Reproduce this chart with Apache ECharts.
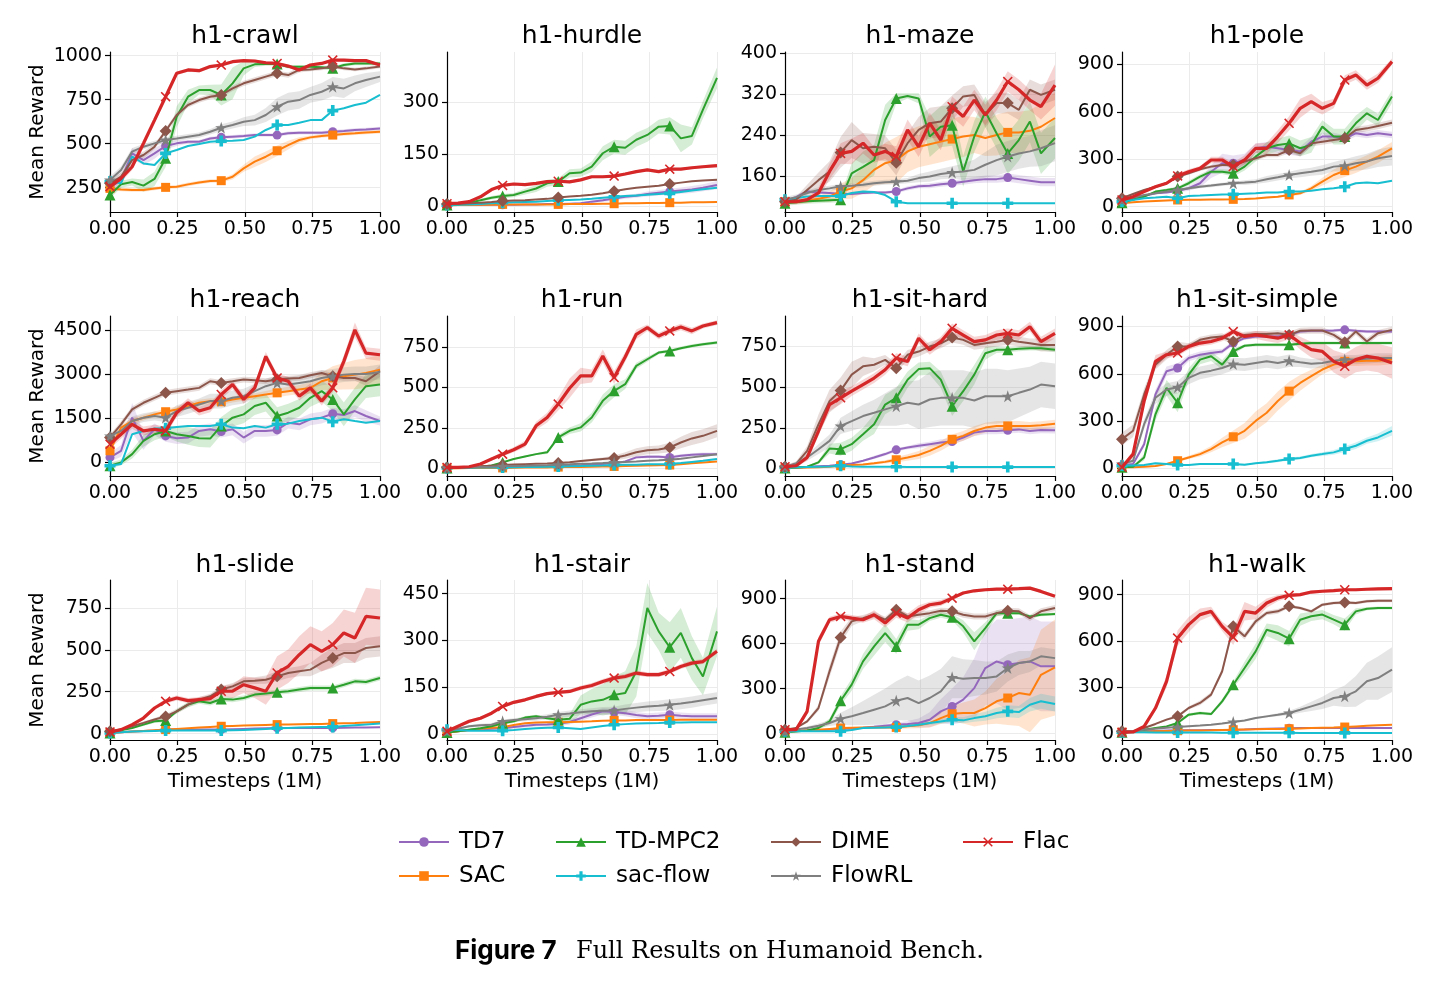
<!DOCTYPE html>
<html><head><meta charset="utf-8">
<script src="https://cdn.jsdelivr.net/npm/echarts@6/dist/echarts.min.js"></script>
<style>html,body{margin:0;padding:0;background:#fff}#c{width:1439px;height:982px}</style>
</head><body><div id="c"></div>
<script>
// ---------- shared x grid (fraction of 1M timesteps) ----------
const X = [0,0.041,0.082,0.124,0.165,0.206,0.247,0.289,0.330,0.371,0.412,0.454,0.495,0.536,0.577,0.619,0.660,0.701,0.742,0.784,0.825,0.866,0.907,0.948,1.0];
const xTicks = [0,0.25,0.5,0.75,1];
const methods = ['TD7','SAC','TD-MPC2','sac-flow','DIME','FlowRL','Flac'];
const tasks = ['h1-crawl','h1-hurdle','h1-maze','h1-pole','h1-reach','h1-run','h1-sit-hard','h1-sit-simple','h1-slide','h1-stair','h1-stand','h1-walk'];

// ---------- y axis limits and tick labels ----------
const crawlY=[112,1021], crawlTicks=[250,500,750,1000];
const hurdleY=[-18,445], hurdleTicks=[0,150,300];
const mazeY=[91,402.5], mazeTicks=[160,240,320,400];
const poleY=[-34,978], poleTicks=[0,300,600,900];
const reachY=[-462,4972], reachTicks=[0,1500,3000,4500];
const runY=[-47,941], runTicks=[0,250,500,750];
const sithardY=[-47,938], sithardTicks=[0,250,500,750];
const sitsimpleY=[-49,967], sitsimpleTicks=[0,300,600,900];
const slideY=[-38,917], slideTicks=[0,250,500,750];
const stairY=[-20,494], stairTicks=[0,150,300,450];
const standY=[-42,1025], standTicks=[0,300,600,900];
const walkY=[-41,995], walkTicks=[0,300,600,900];

// ---------- h1-crawl ----------
const crawl_TD7=[250,294,445,407,445,487,502,511,511,530,536,540,544,549,549,549,559,562,562,562,568,572,578,581,587];
const crawl_SAC=[246,240,237,237,246,252,256,269,280,288,290,312,360,398,426,460,492,521,536,544,549,555,559,564,568];
const crawl_TDMPC2=[208,270,282,262,300,417,653,767,805,805,777,843,928,951,953,953,937,937,937,935,928,947,956,956,956];
const crawl_sacflow=[285,275,426,388,379,445,464,487,498,511,515,517,521,540,578,606,606,619,634,634,688,701,720,733,777];
const crawl_DIME=[275,313,407,436,483,572,663,720,748,767,777,814,843,862,881,900,890,919,922,928,938,928,922,928,938];
const crawl_FlowRL=[294,350,455,483,502,521,530,540,549,568,591,606,625,634,663,710,739,748,777,795,824,814,843,862,881];
const crawl_Flac=[256,303,369,502,634,767,900,919,915,938,947,966,972,970,960,956,941,919,947,956,975,975,972,972,947];
const crawl_TD7_sd=[20,25,30,30,30,20,15,10,10,10,10,10,10,10,10,10,10,10,10,10,10,10,10,10,10];
const crawl_SAC_sd=[10,10,10,10,10,10,10,10,10,10,10,15,20,30,30,30,25,15,10,10,10,10,10,10,10];
const crawl_TDMPC2_sd=[20,20,20,35,40,50,60,40,25,30,60,90,40,15,10,10,10,10,10,10,10,10,10,10,10];
const crawl_DIME_sd=[20,20,20,20,15,15,15,15,15,15,15,15,15,15,15,15,15,15,10,10,10,10,10,10,10];
const crawl_FlowRL_sd=[20,20,20,15,15,15,15,15,15,15,20,20,25,30,40,50,50,50,45,50,55,55,45,40,30];
const crawl_Flac_sd=[15,20,20,25,20,15,10,10,10,10,10,8,8,8,8,8,8,10,8,8,8,8,8,8,8];

// ---------- h1-hurdle ----------
const hurdle_TD7=[2,2,2,2,3,3,3,4,4,5,5,6,7,12,16,21,26,29,34,38,41,44,47,52,60];
const hurdle_SAC=[1,2,2,3,3,4,4,4,4,4,4,5,5,5,6,6,7,7,8,8,9,9,10,10,11];
const hurdle_TDMPC2=[2,4,9,16,23,28,31,41,50,65,70,94,96,113,152,171,168,191,205,229,231,195,202,278,370];
const hurdle_sacflow=[2,3,4,5,7,9,10,11,12,14,16,17,18,20,23,26,28,30,32,34,36,40,44,48,52];
const hurdle_DIME=[5,5,7,9,11,14,15,16,18,20,24,27,29,32,36,42,48,52,55,58,63,67,71,73,75];
const hurdle_Flac=[6,8,12,26,47,59,63,61,65,70,71,69,75,84,84,86,92,99,104,99,106,106,110,113,116];
const hurdle_TD7_sd=[1,1,1,1,1,1,1,1,1,1,1,2,3,4,5,6,6,6,7,8,8,9,10,10,12];
const hurdle_TDMPC2_sd=[2,2,3,4,5,6,6,8,10,10,10,12,12,15,20,20,20,20,20,20,25,40,25,25,30];
const hurdle_Flac_sd=[2,2,2,3,4,4,4,4,4,4,4,4,4,4,4,4,4,4,4,4,4,4,4,4,5];

// ---------- h1-maze ----------
const maze_TD7=[111,120,131,129,128,126,126,128,129,129,131,137,141,142,145,147,150,153,155,155,158,155,152,149,149];
const maze_SAC=[111,112,113,117,121,131,137,153,173,186,192,209,218,223,228,233,238,241,235,241,246,246,249,257,274];
const maze_TDMPC2=[108,110,112,113,114,115,166,179,192,270,312,317,312,238,257,260,170,238,286,244,205,231,267,205,235];
const maze_sacflow=[115,118,121,122,122,122,128,131,130,124,111,108,108,108,108,108,108,108,108,108,108,108,108,108,108];
const maze_DIME=[111,115,134,153,170,207,231,215,218,215,187,225,251,264,267,293,316,319,280,303,303,290,329,319,329];
const maze_FlowRL=[115,120,128,134,137,141,142,144,147,149,150,152,157,160,165,168,170,173,183,192,199,205,209,215,225];
const maze_Flac=[111,111,115,128,170,205,209,225,202,209,199,251,218,264,231,296,277,309,280,309,345,329,309,296,338];
const maze_TD7_sd=[3,3,3,3,3,3,3,3,3,3,3,4,4,5,5,5,6,6,7,7,8,8,8,8,8];
const maze_SAC_sd=[5,5,5,5,10,15,20,25,30,40,45,40,40,40,40,40,40,35,35,40,40,40,40,45,50];
const maze_TDMPC2_sd=[5,5,5,5,5,5,20,30,30,30,10,5,10,40,40,40,30,30,30,30,40,40,40,40,40];
const maze_DIME_sd=[5,5,10,15,20,30,35,30,25,25,25,20,25,30,30,25,20,20,25,20,20,20,20,20,20];
const maze_FlowRL_sd=[5,5,5,5,5,5,5,5,5,5,5,5,8,10,10,12,15,20,25,30,30,30,30,35,35];
const maze_Flac_sd=[5,5,5,10,15,20,25,20,15,15,20,20,20,20,20,20,20,20,20,20,20,20,20,25,40];

// ---------- h1-pole ----------
const pole_TD7=[32,50,67,84,89,99,116,148,221,274,274,295,369,379,369,358,348,411,443,443,432,464,453,464,453];
const pole_SAC=[21,27,32,36,39,42,43,44,45,45,46,48,52,58,63,74,84,116,158,200,228,253,285,316,369];
const pole_TDMPC2=[25,45,63,95,105,116,148,190,221,221,211,253,316,369,390,400,369,390,506,443,443,527,590,548,696];
const pole_sacflow=[32,42,53,58,63,53,67,70,74,76,78,81,84,89,89,95,95,101,110,116,126,148,152,148,164];
const pole_DIME=[53,80,105,126,148,190,211,236,253,263,263,285,306,327,327,358,337,400,411,422,432,485,495,510,531];
const pole_FlowRL=[42,58,74,84,95,105,116,126,133,141,148,152,158,173,186,200,211,221,232,253,259,274,285,306,320];
const pole_Flac=[42,63,95,126,148,194,221,242,295,295,253,295,369,369,443,527,622,664,622,653,801,833,769,812,917];
const pole_TD7_sd=[5,5,5,5,5,10,15,25,40,60,50,40,30,30,30,30,30,30,25,25,20,20,20,20,20];
const pole_SAC_sd=[3,3,3,3,3,3,3,3,3,3,3,3,4,5,6,8,10,15,25,35,40,40,40,40,40];
const pole_TDMPC2_sd=[5,5,5,5,10,10,15,15,15,15,20,25,30,40,40,50,50,50,40,50,50,50,40,40,40];
const pole_DIME_sd=[5,5,5,5,5,10,10,10,10,10,15,15,15,15,15,20,20,20,20,20,20,20,20,20,20];
const pole_FlowRL_sd=[5,5,5,5,5,5,10,10,10,10,10,15,15,20,20,20,25,25,30,30,40,45,50,55,60];
const pole_Flac_sd=[10,10,10,10,10,15,15,15,20,20,25,30,30,35,40,45,60,50,40,30,30,30,30,30,20];

// ---------- h1-reach ----------
const reach_TD7=[169,394,1519,731,1125,900,821,844,1069,1125,1046,1125,844,1069,1069,1103,1350,1294,1463,1519,1654,1609,1744,1575,1406];
const reach_SAC=[394,1181,1406,1519,1631,1721,1800,1913,2025,2081,2059,2138,2194,2250,2306,2363,2419,2475,2531,2756,2869,2925,2981,3038,3150];
const reach_TDMPC2=[-112,0,281,731,956,1069,956,900,821,810,1238,1519,1631,1913,2025,1575,1688,1856,2194,2419,2138,1631,2138,2588,2644];
const reach_sacflow=[-112,-56,956,1069,1148,1159,1204,1238,1238,1238,1294,1181,1159,1238,1181,1294,1316,1406,1463,1519,1384,1463,1406,1350,1406];
const reach_DIME=[844,1294,1800,2025,2194,2363,2419,2475,2531,2756,2700,2756,2813,2790,2756,2813,2846,2869,2959,3038,2925,2869,2869,2756,3100];
const reach_FlowRL=[900,1069,1406,1519,1575,1519,1744,1856,1969,2081,2081,2194,2250,2419,2588,2700,2644,2700,2756,2869,2925,2981,3004,3004,3071];
const reach_Flac=[619,956,1294,1069,1125,1069,1688,2025,1744,1856,2306,2644,2138,2531,3600,2869,2756,2250,2531,2081,2531,3431,4500,3713,3656];
const reach_TD7_sd=[150,200,500,300,200,200,200,200,200,200,200,200,200,200,200,200,200,200,200,200,200,200,200,200,150];
const reach_SAC_sd=[100,100,100,100,100,100,100,100,100,100,100,100,100,100,120,150,150,150,200,300,400,450,500,500,500];
const reach_TDMPC2_sd=[100,100,150,200,200,200,250,300,300,300,300,300,300,300,300,300,300,300,300,350,400,400,400,400,400];
const reach_DIME_sd=[100,100,100,100,100,100,100,100,100,100,100,100,100,100,100,100,100,100,100,100,100,100,100,150,200];
const reach_FlowRL_sd=[100,100,150,150,150,150,200,200,200,250,250,250,250,250,250,250,250,250,250,250,250,250,250,250,250];
const reach_Flac_sd=[150,150,150,150,150,150,150,150,150,150,150,150,150,150,150,150,150,150,150,150,150,200,250,200,200];

// ---------- h1-run ----------
const run_TD7=[3,3,4,5,6,7,8,9,10,12,16,18,20,24,27,31,43,68,72,72,68,78,84,88,88];
const run_SAC=[0,1,2,2,3,3,4,5,5,6,8,9,9,10,11,12,14,16,18,20,21,26,32,37,43];
const run_TDMPC2=[2,3,5,10,18,37,58,74,88,99,191,232,253,314,417,479,520,633,674,715,725,742,756,766,777];
const run_sacflow=[3,3,4,5,5,6,7,8,9,10,12,13,14,16,18,21,22,23,25,26,27,33,40,47,58];
const run_DIME=[6,8,10,13,17,21,24,26,28,30,33,38,45,52,58,64,80,100,112,117,129,160,185,201,232];
const run_FlowRL=[4,5,6,8,10,14,15,16,18,20,23,25,28,30,33,37,40,43,47,50,53,60,68,76,88];
const run_Flac=[6,6,10,27,58,88,115,150,263,314,397,495,571,571,694,561,688,828,869,818,849,873,849,879,900];
const run_TD7_sd=[2,2,2,2,2,2,2,2,2,2,2,3,3,3,4,5,6,8,10,10,10,10,10,10,10];
const run_TDMPC2_sd=[2,2,2,3,3,5,5,5,5,10,15,20,25,30,40,40,30,20,15,10,10,10,10,10,10];
const run_DIME_sd=[2,2,2,2,2,3,3,3,3,3,4,5,6,8,10,15,20,25,25,25,30,35,40,40,40];
const run_Flac_sd=[5,5,5,5,10,15,15,20,25,30,40,60,50,40,40,40,30,30,20,20,20,20,20,15,15];

// ---------- h1-sit-hard ----------
const sithard_TD7=[6,8,10,13,16,22,30,47,67,88,114,128,139,149,159,165,190,220,230,230,234,240,230,236,234];
const sithard_SAC=[2,3,5,7,10,16,20,24,31,40,53,67,82,108,139,179,200,230,251,261,261,261,261,265,275];
const sithard_TDMPC2=[2,5,10,37,122,118,149,210,271,393,434,546,611,617,546,383,475,577,709,730,730,736,740,740,730];
const sithard_sacflow=[5,6,8,10,12,16,12,10,10,10,10,9,9,9,8,8,8,8,8,8,8,8,8,8,8];
const sithard_DIME=[10,27,108,271,414,479,577,628,638,668,617,699,719,750,770,805,791,760,770,780,791,780,770,760,760];
const sithard_FlowRL=[10,30,67,118,169,261,291,322,342,363,383,404,393,424,434,434,434,418,444,444,444,465,485,516,505];
const sithard_Flac=[10,16,67,230,393,434,475,516,556,607,679,658,801,730,780,862,821,780,791,821,831,821,872,780,831];
const sithard_TD7_sd=[5,5,5,5,5,5,5,5,10,10,10,10,15,15,20,20,20,20,20,20,20,20,20,20,20];
const sithard_SAC_sd=[3,3,3,3,3,3,3,5,8,10,15,20,25,30,30,30,30,30,30,30,30,30,25,25,25];
const sithard_TDMPC2_sd=[3,5,5,10,30,40,40,40,60,60,60,50,40,40,50,60,60,60,40,20,15,15,15,15,15];
const sithard_DIME_sd=[10,15,30,60,70,80,80,60,40,30,30,30,30,30,30,30,30,30,30,30,30,30,30,40,40];
const sithard_FlowRL_sd=[5,10,20,30,40,50,60,70,80,100,120,130,150,170,170,170,170,170,170,170,160,150,140,140,140];
const sithard_Flac_sd=[5,10,20,30,40,40,30,30,30,30,30,30,30,30,30,30,30,30,30,30,30,30,30,30,30];

// ---------- h1-sit-simple ----------
const sitsimple_TD7=[17,27,153,469,616,637,700,721,732,742,795,826,837,837,837,847,868,873,873,875,879,873,868,868,868];
const sitsimple_SAC=[6,7,10,15,27,48,69,90,122,164,200,238,301,353,427,490,542,585,627,658,679,679,683,683,690];
const sitsimple_TDMPC2=[6,10,69,343,511,416,595,690,711,658,742,778,784,784,784,784,791,795,795,795,795,795,795,795,795];
const sitsimple_sacflow=[17,17,21,32,27,21,21,27,27,27,27,23,32,38,48,59,65,80,90,101,122,143,175,196,238];
const sitsimple_DIME=[185,238,469,658,721,774,774,816,830,837,805,847,852,852,858,847,873,875,875,847,801,868,805,858,879];
const sitsimple_FlowRL=[27,48,280,448,500,515,574,606,620,637,662,658,669,679,669,683,673,664,669,683,690,690,696,700,700];
const sitsimple_Flac=[6,90,427,679,721,732,774,795,805,826,868,837,847,837,826,847,795,753,742,679,648,690,711,700,669];
const sitsimple_TD7_sd=[10,10,20,30,30,30,20,20,20,15,15,10,10,10,10,10,10,10,10,10,10,10,10,10,10];
const sitsimple_SAC_sd=[5,5,5,5,5,8,10,15,20,30,40,50,60,60,60,60,50,40,30,30,30,30,30,30,30];
const sitsimple_TDMPC2_sd=[5,5,20,40,50,60,40,30,30,30,20,10,10,10,10,10,10,10,10,10,10,10,10,10,10];
const sitsimple_sacflow_sd=[5,5,5,5,5,5,5,5,5,5,5,5,5,8,10,10,10,10,12,15,18,20,20,25,30];
const sitsimple_DIME_sd=[40,40,40,30,30,30,20,20,20,20,20,20,20,20,20,20,20,20,20,20,20,20,20,20,20];
const sitsimple_FlowRL_sd=[10,15,30,40,40,40,40,40,40,40,40,40,40,40,40,40,30,30,30,30,30,30,30,30,30];
const sitsimple_Flac_sd=[10,20,40,40,20,20,20,20,20,20,20,20,25,30,30,30,40,50,60,70,80,80,90,90,100];

// ---------- h1-slide ----------
const slide_TD7=[4,8,12,15,18,24,24,24,24,24,24,26,28,30,32,34,34,34,34,34,34,35,36,37,38];
const slide_SAC=[4,8,12,16,20,24,28,32,36,40,44,46,48,50,52,54,55,56,57,58,60,62,64,67,70];
const slide_TDMPC2=[4,20,34,54,74,78,133,173,193,183,207,203,213,233,239,247,253,263,273,273,273,292,312,308,332];
const slide_sacflow=[4,8,12,14,16,18,18,18,18,18,18,20,22,25,28,32,34,36,38,39,40,45,50,55,60];
const slide_DIME=[14,24,44,64,84,103,133,173,203,223,263,282,312,316,322,342,362,372,382,422,452,481,481,511,521];
const slide_Flac=[10,24,54,93,153,193,213,197,203,209,253,253,292,273,253,362,402,471,531,491,531,601,571,700,690];
const slide_TDMPC2_sd=[3,3,5,8,10,10,12,15,15,15,15,15,15,15,15,15,15,15,15,15,15,15,15,15,15];
const slide_DIME_sd=[5,5,5,8,10,12,15,15,15,15,20,20,20,20,25,30,30,30,40,50,60,60,60,60,60];
const slide_Flac_sd=[5,5,5,10,10,15,15,15,15,20,30,40,50,60,80,100,100,110,110,120,130,140,150,170,170];

// ---------- h1-stair ----------
const stair_TD7=[4,8,12,14,16,18,22,26,29,30,32,38,50,62,72,70,66,60,56,58,61,58,56,56,56];
const stair_SAC=[4,8,12,16,19,21,28,34,36,37,37,38,39,40,42,43,43,44,44,44,44,45,45,45,45];
const stair_TDMPC2=[4,8,13,18,24,34,40,52,56,50,45,48,93,104,109,125,131,200,404,329,278,324,243,184,329];
const stair_sacflow=[13,12,10,10,10,10,12,15,18,19,20,18,15,20,25,29,31,33,34,35,36,36,37,37,37];
const stair_FlowRL=[8,16,24,27,29,40,44,47,50,55,61,65,69,72,74,75,80,84,88,90,93,97,102,108,115];
const stair_Flac=[8,24,40,50,66,88,101,109,120,129,133,136,147,155,168,179,184,195,190,190,200,216,227,232,265];
const stair_TD7_sd=[2,2,3,3,4,5,5,6,6,7,8,8,9,10,10,10,10,10,10,10,10,10,10,10,10];
const stair_TDMPC2_sd=[2,2,3,3,5,5,5,5,5,5,10,15,30,40,50,60,70,80,80,60,80,80,70,60,80];
const stair_FlowRL_sd=[2,3,4,5,6,6,6,7,8,8,9,10,10,10,12,12,14,15,16,17,18,18,18,18,18];
const stair_Flac_sd=[3,4,5,5,5,5,5,5,5,5,5,6,7,8,8,8,8,8,8,8,8,8,8,8,8];

// ---------- h1-stand ----------
const stand_TD7=[16,18,20,22,26,31,35,40,46,53,60,64,71,93,149,182,227,304,438,482,460,471,482,449,449];
const stand_SAC=[16,18,22,26,32,38,40,41,42,42,42,50,56,71,104,133,138,138,171,216,238,271,260,393,442];
const stand_TDMPC2=[9,15,22,38,82,220,327,482,582,671,582,727,727,771,793,776,716,616,704,804,804,804,782,793,798];
const stand_sacflow=[16,16,16,16,16,16,25,38,40,42,44,52,60,71,82,93,89,104,116,138,149,144,193,216,198];
const stand_DIME=[27,38,82,171,416,642,749,771,793,760,827,782,793,804,820,816,793,782,782,804,820,816,771,816,838];
const stand_FlowRL=[16,28,38,53,71,100,116,138,160,182,220,238,204,238,282,376,367,371,371,382,438,471,482,516,504];
const stand_Flac=[27,27,149,616,760,782,771,760,793,738,804,771,827,860,871,904,938,953,960,964,964,967,971,949,916];
const stand_TD7_sd=[5,5,5,5,5,5,5,5,10,10,15,20,30,50,80,120,150,200,250,280,300,300,300,300,300];
const stand_SAC_sd=[5,5,5,5,5,5,5,5,5,5,10,15,20,30,40,50,70,90,110,150,180,220,250,300,320];
const stand_TDMPC2_sd=[5,5,5,10,20,30,40,50,60,60,50,40,30,20,20,20,40,60,40,20,10,10,10,10,10];
const stand_sacflow_sd=[3,3,3,3,3,3,5,5,5,5,5,8,10,12,15,20,20,25,30,35,40,40,45,50,50];
const stand_DIME_sd=[5,5,10,20,40,40,30,20,20,20,20,20,20,20,20,20,20,20,20,20,20,20,20,20,20];
const stand_FlowRL_sd=[5,5,10,15,20,40,60,80,100,120,130,150,150,150,150,140,130,120,110,100,90,80,70,60,60];
const stand_Flac_sd=[5,5,20,30,20,20,20,20,30,30,30,30,30,20,20,15,10,10,10,10,10,10,10,10,10];

// ---------- h1-walk ----------
const walk_TD7=[9,12,15,18,20,22,22,22,23,24,25,27,30,32,34,35,36,36,37,37,37,37,37,37,37];
const walk_SAC=[9,11,13,15,17,19,20,21,22,24,26,27,28,30,31,32,34,36,38,40,43,47,51,55,58];
const walk_TDMPC2=[9,15,26,37,47,69,123,134,127,209,317,425,533,673,652,615,738,760,771,738,706,792,809,814,814];
const walk_sacflow=[9,9,9,8,8,8,7,7,7,6,6,6,6,6,6,6,5,5,5,5,5,5,5,5,5];
const walk_DIME=[15,15,37,63,91,112,166,199,253,404,695,630,727,781,792,825,814,792,835,846,850,846,857,861,861];
const walk_FlowRL=[9,18,26,32,38,43,48,53,58,66,76,85,101,112,122,134,155,177,199,231,242,274,339,360,414];
const walk_Flac=[9,11,47,166,339,619,706,771,792,695,624,792,781,846,878,896,900,917,922,926,932,932,935,937,939];
const walk_TDMPC2_sd=[3,3,3,3,5,8,10,10,10,15,20,40,50,40,50,50,40,30,30,30,40,20,10,10,10];
const walk_DIME_sd=[3,3,5,5,8,10,10,15,15,20,20,20,20,15,15,10,10,10,10,10,10,10,10,10,10];
const walk_FlowRL_sd=[2,2,2,2,3,3,3,3,4,4,5,5,6,8,10,15,20,30,40,50,70,100,120,140,145];
const walk_Flac_sd=[5,5,10,20,40,50,50,40,30,30,50,60,40,30,20,15,10,10,10,10,10,10,10,10,10];

// ---------- assemble (lookup tables built from the arrays above) ----------
const keys = ['crawl','hurdle','maze','pole','reach','run','sithard','sitsimple','slide','stair','stand','walk'];
const mkey = {'TD7':'TD7','SAC':'SAC','TD-MPC2':'TDMPC2','sac-flow':'sacflow','DIME':'DIME','FlowRL':'FlowRL','Flac':'Flac'};
const G = (name) => { try { return eval(name); } catch (e) { return null; } };

const COLORS = {'TD7':'#9467bd','SAC':'#ff7f0e','TD-MPC2':'#2ca02c','sac-flow':'#17becf','DIME':'#8c564b','FlowRL':'#7f7f7f','Flac':'#d62728'};
const SYMBOL = {
  'TD7':'circle','SAC':'rect','TD-MPC2':'triangle',
  'sac-flow':'path://M-1,-0.33 L-0.33,-0.33 L-0.33,-1 L0.33,-1 L0.33,-0.33 L1,-0.33 L1,0.33 L0.33,0.33 L0.33,1 L-0.33,1 L-0.33,0.33 L-1,0.33 Z',
  'DIME':'path://M0,-1 L1,0 L0,1 L-1,0 Z',
  'FlowRL':'path://M0,-1 L0.225,-0.309 L0.951,-0.309 L0.363,0.118 L0.588,0.809 L0,0.382 L-0.588,0.809 L-0.363,0.118 L-0.951,-0.309 L-0.225,-0.309 Z',
  'Flac':'path://M-1,-0.78 L-0.78,-1 L0,-0.22 L0.78,-1 L1,-0.78 L0.22,0 L1,0.78 L0.78,1 L0,0.22 L-0.78,1 L-1,0.78 L-0.22,0 Z'
};
const SYMSIZE = {'TD7':9,'SAC':9,'TD-MPC2':11,'sac-flow':11,'DIME':12,'FlowRL':12,'Flac':10};
const MARK_IDX = [0,5,10,15,20];
function rgba(hex,a){const n=parseInt(hex.slice(1),16);return `rgba(${n>>16&255},${n>>8&255},${n&255},${a})`;}

const FONT = 'DejaVu Sans';
const colLeft = [110,447,785,1122], rowTop = [52,316,580], PW = 270, PH = 160;
const titleY = [36,300,565];

const grids=[], xAxes=[], yAxes=[], series=[], graphics=[];
keys.forEach((k,t)=>{
  const r = Math.floor(t/4), c = t%4;
  grids.push({left:colLeft[c], top:rowTop[r], width:PW, height:PH, containLabel:false});
  const yr = G(k+'Y'), yt = G(k+'Ticks');
  xAxes.push({type:'value', gridIndex:t, min:0, max:1, interval:0.25,
    name: r===2 ? 'Timesteps (1M)' : '', nameLocation:'middle', nameGap:32,
    nameTextStyle:{fontSize:20, fontFamily:FONT, color:'#000'},
    axisLine:{show:true, onZero:false, lineStyle:{color:'#000', width:1.2}},
    axisTick:{show:true, length:5, lineStyle:{color:'#000', width:1.2}},
    axisLabel:{fontSize:19, fontFamily:FONT, color:'#000', margin:8, formatter:v=>v.toFixed(2)},
    splitLine:{show:true, lineStyle:{color:'#ebebeb', width:1}}});
  yAxes.push({type:'value', gridIndex:t, min:yr[0], max:yr[1],
    name: c===0 ? 'Mean Reward' : '', nameLocation:'middle', nameGap:62,
    nameTextStyle:{fontSize:20, fontFamily:FONT, color:'#000'},
    axisLine:{show:true, onZero:false, lineStyle:{color:'#000', width:1.2}},
    axisTick:{show:true, length:5, customValues:yt, lineStyle:{color:'#000', width:1.2}},
    axisLabel:{fontSize:19, fontFamily:FONT, color:'#000', margin:8, customValues:yt, formatter:v=>String(Math.round(v))},
    splitLine:{show:true, lineStyle:{color:'#ebebeb', width:1}}});
  graphics.push({type:'text', x:colLeft[c]+PW/2, y:titleY[r], silent:true,
    style:{text:tasks[t], font:`25px "${FONT}"`, fill:'#000', align:'center', verticalAlign:'middle', textAlign:'center', textVerticalAlign:'middle'}});

  // bands first
  methods.forEach(m=>{
    const vals = G(k+'_'+mkey[m]); const sd = G(k+'_'+mkey[m]+'_sd');
    if(!vals || !sd) return;
    const col = COLORS[m];
    series.push({type:'custom', xAxisIndex:t, yAxisIndex:t, silent:true, z:1, clip:true, data:[[0.5, vals[0]]],
      renderItem:(params, api)=>{
        const up=[], lo=[];
        for(let i=0;i<X.length;i++){
          up.push(api.coord([X[i], vals[i]+sd[i]]));
          lo.push(api.coord([X[i], vals[i]-sd[i]]));
        }
        return {type:'polygon', shape:{points:up.concat(lo.reverse())}, style:{fill:rgba(col,0.2)}};
      }});
  });
  methods.forEach((m,mi)=>{
    const vals = G(k+'_'+mkey[m]);
    if(!vals) return;
    const col = COLORS[m];
    series.push({type:'line', name:m, xAxisIndex:t, yAxisIndex:t, z:2+mi,
      data:X.map((x,i)=>[x, vals[i]]),
      symbol:SYMBOL[m], symbolSize:(v,p)=> MARK_IDX.includes(p.dataIndex) ? SYMSIZE[m] : 0,
      showSymbol:true, showAllSymbol:true,
      lineStyle:{color:col, width: m==='Flac'?3.2:2},
      itemStyle:{color:col}, emphasis:{disabled:true}});
  });
});

graphics.push({type:'text', x:455, y:951, silent:true, style:{text:'Figure 7', font:'bold 26px Inter', fill:'#000', verticalAlign:'middle', textVerticalAlign:'middle'}});
graphics.push({type:'text', x:576, y:952, silent:true, style:{text:'Full Results on Humanoid Bench.', font:'24px "DejaVu Serif"', fill:'#000', verticalAlign:'middle', textVerticalAlign:'middle'}});

const legendCols = [[393,['TD7','SAC']],[550,['TD-MPC2','sac-flow']],[765,['DIME','FlowRL']],[957,['Flac']]];
const legends = legendCols.map(([l,d])=>({data:d, left:l, top:825, orient:'vertical', itemWidth:50, itemHeight:12, itemGap:10,
  selectedMode:false, textStyle:{fontSize:23, fontFamily:FONT, color:'#000', lineHeight:24, padding:[0,0,0,5]}}));

const chart = echarts.init(document.getElementById('c'), null, {renderer:'canvas'});
chart.setOption({animation:false, backgroundColor:'#fff', grid:grids, xAxis:xAxes, yAxis:yAxes, series, legend:legends, graphic:graphics, tooltip:{show:false}});
</script></body></html>
